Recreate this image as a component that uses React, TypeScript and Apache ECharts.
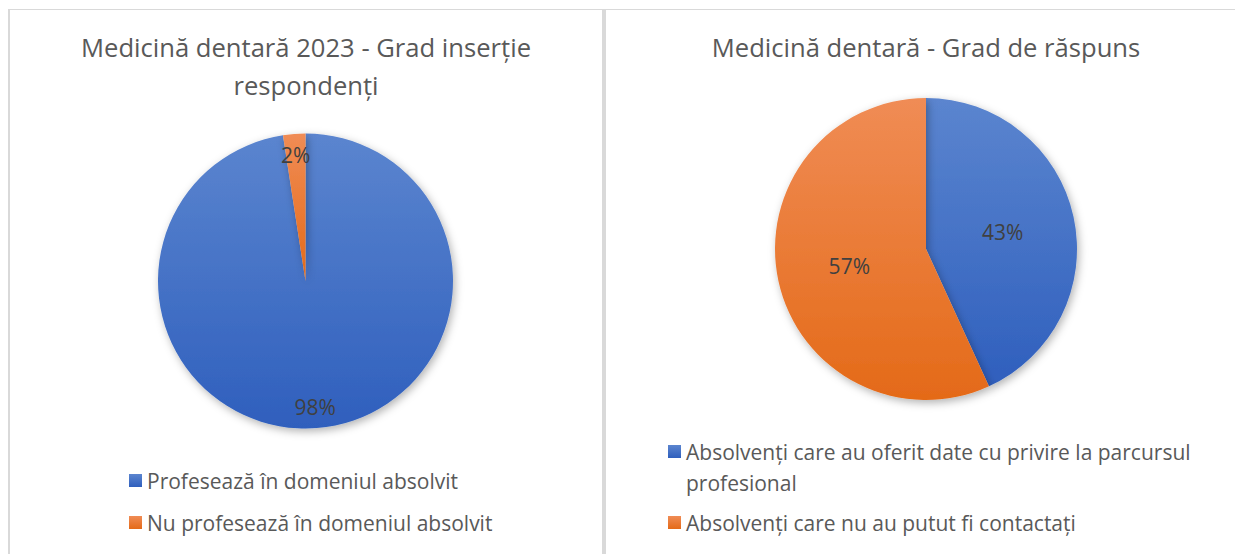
import React, { useEffect, useRef } from "react";
import * as echarts from "echarts";

const FONT = "Open Sans";

const title1 = "Medicină dentară 2023 - Grad inserție\nrespondenți";
const title2 = "Medicină dentară - Grad de răspuns";

const cats1 = ["Profesează în domeniul absolvit", "Nu profesează în domeniul absolvit"];
const vals1 = [40, 1];

const cats2 = [
  "Absolvenți care au oferit date cu privire la parcursul profesional",
  "Absolvenți care nu au putut fi contactați",
];
const vals2 = [41, 54];

const blueGrad = new echarts.graphic.LinearGradient(0, 0, 0, 1, [
  { offset: 0, color: "#5b85cf" },
  { offset: 1, color: "#2f5fbd" },
]);
const orangeGrad = new echarts.graphic.LinearGradient(0, 0, 0, 1, [
  { offset: 0, color: "#f08c55" },
  { offset: 1, color: "#e46a18" },
]);
const colors = [blueGrad, orangeGrad];

export default function App() {
  const ref = useRef<HTMLDivElement>(null);
  useEffect(() => {
    if (!ref.current) return;
    const chart = echarts.init(ref.current, null, { renderer: "svg" });
    const fmt = (p: any) => Math.round(p.percent) + "%";
    const shadow = {
      shadowBlur: 8,
      shadowOffsetX: 2,
      shadowOffsetY: 3,
      shadowColor: "rgba(0,0,0,0.3)",
    };
    const labelStyle = { color: "#404040", fontSize: 21, fontFamily: FONT };
    const titleStyle = { color: "#595959", fontSize: 25.6, lineHeight: 38, fontWeight: "normal", fontFamily: FONT };
    const legendText = { color: "#595959", fontSize: 21, lineHeight: 31, fontFamily: FONT };
    const mk = (names: string[], vals: number[]) =>
      names.map((n, i) => ({ name: n, value: vals[i], itemStyle: { color: colors[i] } }));
    chart.setOption({
      animation: false,
      backgroundColor: "#ffffff",
      title: [
        { text: title1, left: 306, top: 28, padding: 0, textAlign: "center", textStyle: titleStyle },
        { text: title2, left: 926, top: 28, padding: 0, textAlign: "center", textStyle: titleStyle },
      ],
      legend: [
        {
          data: cats1,
          orient: "vertical",
          left: 129,
          top: 465,
          padding: 0,
          icon: "rect",
          itemWidth: 13,
          itemHeight: 13,
          itemGap: 11,
          selectedMode: false,
          textStyle: legendText,
        },
        {
          data: [cats2[0]],
          orient: "vertical",
          left: 668,
          top: 405,
          padding: 0,
          icon: "rect",
          itemWidth: 13,
          itemHeight: 13,
          selectedMode: false,
          formatter: (name: string) => "\n" + name,
          textStyle: { ...legendText, width: 530, overflow: "break" },
        },
        {
          data: [cats2[1]],
          orient: "vertical",
          left: 668,
          top: 507,
          padding: 0,
          icon: "rect",
          itemWidth: 13,
          itemHeight: 13,
          selectedMode: false,
          textStyle: legendText,
        },
      ],
      graphic: [
        { type: "line", shape: { x1: 8, y1: 9.5, x2: 1235, y2: 9.5 }, style: { stroke: "#d9d9d9", lineWidth: 1 }, silent: true },
        { type: "rect", shape: { x: 8, y: 9, width: 2, height: 545 }, style: { fill: "#d9d9d9" }, silent: true },
        { type: "rect", shape: { x: 602, y: 9, width: 4, height: 545 }, style: { fill: "#d9d9d9" }, silent: true },
      ],
      series: [
        {
          type: "pie",
          center: [305.5, 281],
          radius: 147.5,
          startAngle: 90,
          clockwise: true,
          label: { show: false },
          labelLine: { show: false },
          itemStyle: { borderWidth: 0, ...shadow },
          emphasis: { disabled: true },
          data: mk(cats1, vals1),
        },
        {
          type: "pie",
          center: [305.5, 281],
          radius: [100, 147.5],
          startAngle: 90,
          clockwise: true,
          silent: true,
          label: { show: true, position: "inside", formatter: fmt, ...labelStyle },
          labelLine: { show: false },
          itemStyle: { color: "rgba(0,0,0,0)", borderWidth: 0 },
          emphasis: { disabled: true },
          data: cats1.map((n, i) => ({ name: n, value: vals1[i], itemStyle: { color: "rgba(0,0,0,0)" } })),
        },
        {
          type: "pie",
          center: [926, 249],
          radius: 151,
          startAngle: 90,
          clockwise: true,
          label: { show: true, position: "inside", formatter: fmt, ...labelStyle },
          labelLine: { show: false },
          itemStyle: { borderWidth: 0, ...shadow },
          emphasis: { disabled: true },
          data: mk(cats2, vals2),
        },
      ],
    });
    return () => chart.dispose();
  }, []);
  return (
    <div
      ref={ref}
      style={{ position: "fixed", left: 0, top: 0, width: 1235, height: 554, background: "#fff" }}
    />
  );
}
